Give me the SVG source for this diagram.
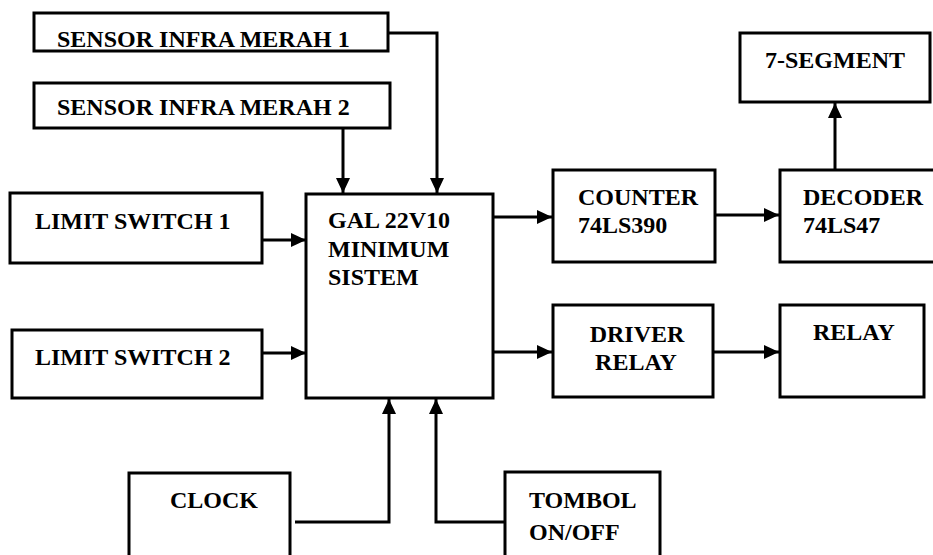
<svg xmlns="http://www.w3.org/2000/svg" width="933" height="555" viewBox="0 0 933 555">
<defs>
<style>
.box{fill:#fff;stroke:#000;stroke-width:3}
.t{font-weight:bold;font-size:24px;fill:#000}
.c{fill:none;stroke:#000;stroke-width:3}
</style>
<marker id="ah" markerUnits="userSpaceOnUse" markerWidth="16" markerHeight="14" refX="15" refY="7" orient="auto">
<path d="M0,0 L15,7 L0,14 Z" fill="#000"/>
</marker>
</defs>
<rect width="933" height="555" fill="#fff"/>
<g id="connectors">
<path class="c" d="M388,33 H437 V193" marker-end="url(#ah)"/>
<path class="c" d="M343,128 V193" marker-end="url(#ah)"/>
<path class="c" d="M262,240 H306" marker-end="url(#ah)"/>
<path class="c" d="M262,353 H306" marker-end="url(#ah)"/>
<path class="c" d="M487,217 H552" marker-end="url(#ah)"/>
<path class="c" d="M715,215 H779" marker-end="url(#ah)"/>
<path class="c" d="M835,170 V103" marker-end="url(#ah)"/>
<path class="c" d="M487,352 H552" marker-end="url(#ah)"/>
<path class="c" d="M713,352 H779" marker-end="url(#ah)"/>
<path class="c" d="M295,522 H389 V399" marker-end="url(#ah)"/>
<path class="c" d="M505,522 H436 V399" marker-end="url(#ah)"/>
</g>
<g font-family="'Liberation Serif', 'Times New Roman', 'DejaVu Serif', serif">
<g id="sensor1"><rect class="box" x="34" y="13" width="354" height="38"/><text class="t" x="57" y="47">SENSOR INFRA MERAH 1</text></g>
<g id="sensor2"><rect class="box" x="34" y="83" width="356" height="45"/><text class="t" x="57" y="115">SENSOR INFRA MERAH 2</text></g>
<g id="limit1"><rect class="box" x="10" y="193" width="252" height="70"/><text class="t" x="35" y="229">LIMIT SWITCH 1</text></g>
<g id="limit2"><rect class="box" x="12" y="330" width="250" height="68"/><text class="t" x="35" y="365">LIMIT SWITCH 2</text></g>
<g id="gal"><rect class="box" x="306" y="194" width="187" height="204"/>
<text class="t" x="328" y="228">GAL 22V10</text>
<text class="t" x="328" y="257">MINIMUM</text>
<text class="t" x="328" y="285">SISTEM</text></g>
<g id="counter"><rect class="box" x="553" y="170" width="162" height="92"/>
<text class="t" x="578" y="205">COUNTER</text><text class="t" x="578" y="233">74LS390</text></g>
<g id="decoder"><rect class="box" x="780" y="170" width="170" height="92"/>
<text class="t" x="803" y="205">DECODER</text><text class="t" x="803" y="233">74LS47</text></g>
<g id="segment"><rect class="box" x="740" y="33" width="190" height="69"/><text class="t" x="765" y="68">7-SEGMENT</text></g>
<g id="driver"><rect class="box" x="553" y="305" width="160" height="92"/>
<text class="t" x="637" y="342" text-anchor="middle">DRIVER</text><text class="t" x="636" y="370" text-anchor="middle">RELAY</text></g>
<g id="relay"><rect class="box" x="780" y="305" width="144" height="92"/><text class="t" x="813" y="340">RELAY</text></g>
<g id="clock"><rect class="box" x="129" y="473" width="161" height="90"/><text class="t" x="170" y="508">CLOCK</text></g>
<g id="tombol"><rect class="box" x="505" y="472" width="155" height="90"/>
<text class="t" x="529" y="508">TOMBOL</text><text class="t" x="529" y="540">ON/OFF</text></g>
</g>
</svg>
